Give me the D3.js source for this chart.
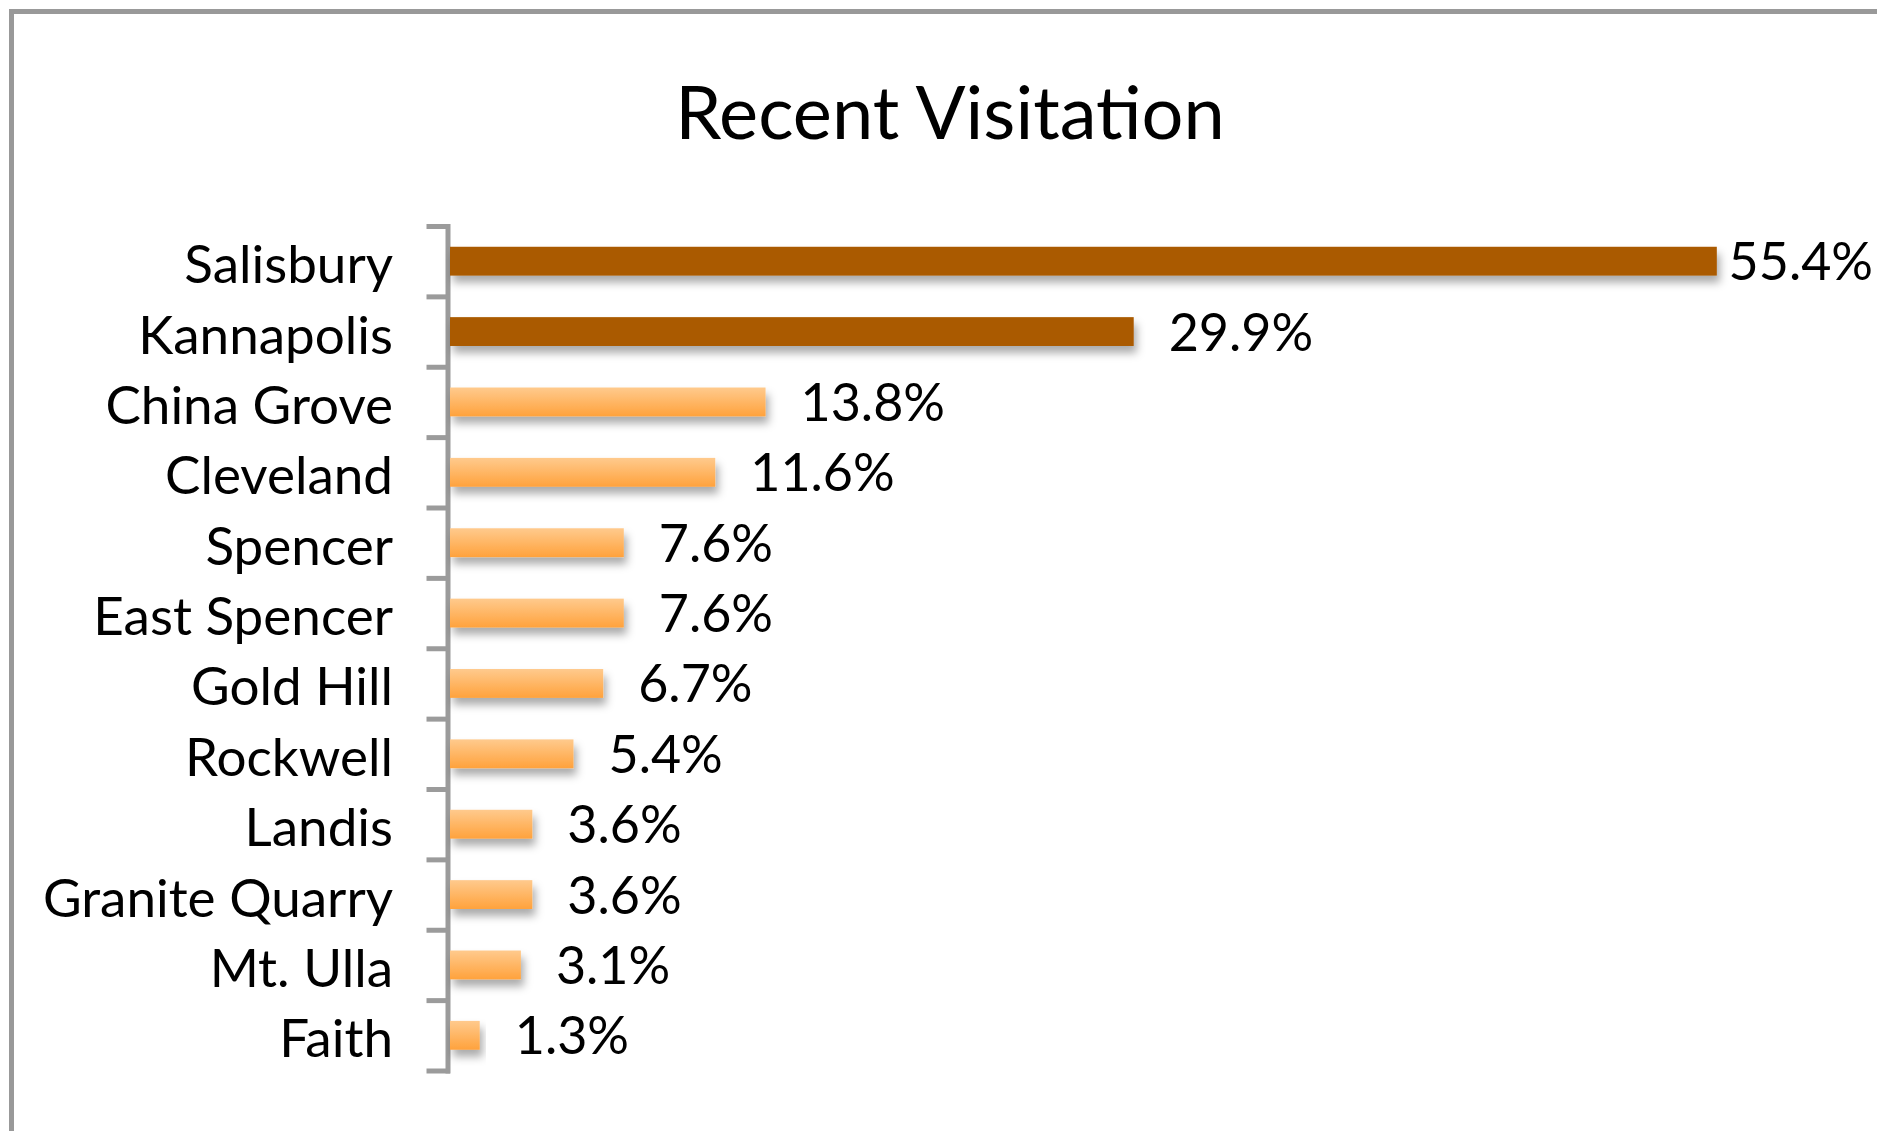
<!DOCTYPE html>
<html>
<head>
<meta charset="utf-8">
<script src="https://cdn.jsdelivr.net/npm/d3@7"></script>
<style>
  html, body { margin: 0; padding: 0; background: #fff; }
  svg { display: block; }
  text { font-family: Lato, "Open Sans", sans-serif; fill: #000; }
</style>
</head>
<body>
<div id="chart"></div>
<script>
const width = 1877
const height = 1131

const cities = ["Salisbury", "Kannapolis", "China Grove", "Cleveland", "Spencer", "East Spencer",
  "Gold Hill", "Rockwell", "Landis", "Granite Quarry", "Mt. Ulla", "Faith"]
const shares = [55.4, 29.9, 13.8, 11.6, 7.6, 7.6, 6.7, 5.4, 3.6, 3.6, 3.1, 1.3]
const highlighted = ["Salisbury", "Kannapolis"]

const svg = d3.select("#chart")
  .append("svg")
  .attr("width", width)
  .attr("height", height)

const defs = svg.append("defs")

const grad = defs.append("linearGradient")
  .attr("id", "lightBar")
  .attr("x1", 0).attr("y1", 0).attr("x2", 0).attr("y2", 1)
grad.append("stop").attr("offset", "0%").attr("stop-color", "#ffca8d")
grad.append("stop").attr("offset", "100%").attr("stop-color", "#ffa23c")

const shadow = defs.append("filter")
  .attr("id", "shadow")
  .attr("x", "-10%").attr("y", "-50%")
  .attr("width", "130%").attr("height", "250%")
shadow.append("feDropShadow")
  .attr("dx", 3)
  .attr("dy", 7)
  .attr("stdDeviation", 4)
  .attr("flood-color", "#000")
  .attr("flood-opacity", 0.33)

// frame (runs off the right and bottom edges)
svg.append("rect")
  .attr("x", 11.5)
  .attr("y", 11.5)
  .attr("width", width + 20)
  .attr("height", height + 20)
  .attr("fill", "none")
  .attr("stroke", "#999")
  .attr("stroke-width", 5)

svg.append("text")
  .attr("x", 950)
  .attr("y", 139)
  .attr("text-anchor", "middle")
  .style("font-size", "74px")
  .text("Recent Visitation")

const x = d3.scaleLinear()
  .domain([0, 60])
  .range([450, 1822])

const y = d3.scaleBand()
  .domain(cities)
  .range([226, 1070.5])
  .paddingInner(0.59)
  .paddingOuter(0.295)

// ticks sit on the band edges
const yEdge = d3.scaleLinear()
  .domain([0, cities.length])
  .range([226, 1070.5])

const axis = svg.append("g")
  .attr("transform", "translate(447.5,0)")
  .call(d3.axisLeft(yEdge)
    .tickValues(d3.range(cities.length + 1))
    .tickSizeInner(18.5)
    .tickSizeOuter(0)
    .tickFormat(""))
axis.selectAll("path, line")
  .attr("stroke", "#9b9b9b")
  .attr("stroke-width", 5)
  .attr("stroke-linecap", "square")

svg.append("g")
  .selectAll("rect")
  .data(cities)
  .join("rect")
  .attr("x", x(0))
  .attr("y", (d) => y(d))
  .attr("width", (d, i) => x(shares[i]) - x(0))
  .attr("height", y.bandwidth())
  .attr("fill", (d) => highlighted.includes(d) ? "#aa5a00" : "url(#lightBar)")
  .attr("filter", "url(#shadow)")

svg.append("g")
  .selectAll("text")
  .data(cities)
  .join("text")
  .attr("x", 393)
  .attr("y", (d) => y(d) + y.bandwidth() / 2 + 22)
  .attr("text-anchor", "end")
  .style("font-size", "53px")
  .text((d) => d)

const values = svg.append("g")
  .selectAll("text")
  .data(shares)
  .join("text")
  .attr("y", (d, i) => y(cities[i]) + y.bandwidth() / 2 + 19)
  .style("font-size", "52px")
  .text((d) => d.toFixed(1) + "%")

// push the label left when it would run past the frame
values.attr("x", function (d) {
  const w = this.getComputedTextLength()
  return Math.min(x(d) + 35, 1873 - w)
})
</script>
</body>
</html>
